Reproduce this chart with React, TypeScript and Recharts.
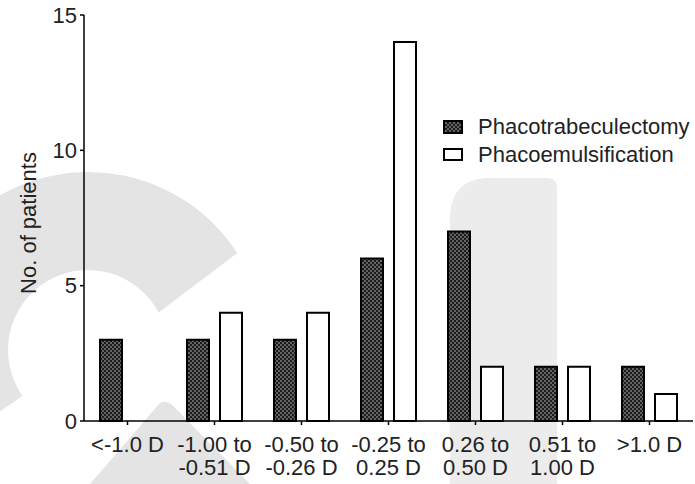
import React from 'react';
import { BarChart, Bar, XAxis, YAxis } from 'recharts';

// Refraction outcome bins (x axis)
const categories = [
  '<-1.0 D',
  '-1.00 to\n-0.51 D',
  '-0.50 to\n-0.26 D',
  '-0.25 to\n0.25 D',
  '0.26 to\n0.50 D',
  '0.51 to\n1.00 D',
  '>1.0 D',
];

// Number of patients per bin
const phacotrabeculectomy = [3, 3, 3, 6, 7, 2, 2];
const phacoemulsification = [0, 4, 4, 14, 2, 2, 1];

const yTicks = [0, 5, 10, 15];

const seriesNames = ['Phacotrabeculectomy', 'Phacoemulsification'];

const data = categories.map((category, i) => ({
  category,
  trab: phacotrabeculectomy[i],
  emul: phacoemulsification[i],
}));

const FONT = '"Liberation Sans", Arial, sans-serif';
const TEXT = '#222';

const XTick = (props: any) => {
  const { x, y, payload } = props;
  const lines = String(payload.value).split('\n');
  return (
    <text x={x} y={y} textAnchor="middle" fill={TEXT} fontSize={22} fontFamily={FONT}>
      {lines.map((line, i) => (
        <tspan key={i} x={x} dy={i === 0 ? 24.5 : 23.5}>
          {line}
        </tspan>
      ))}
    </text>
  );
};

// Series key, placed at the right of the plot
const SeriesKey = () => (
  <div
    style={{
      position: 'absolute',
      left: 443,
      top: 113,
      fontFamily: FONT,
      fontSize: 22,
      color: TEXT,
      lineHeight: '28px',
    }}
  >
    {seriesNames.map((name, i) => (
      <div key={name} style={{ display: 'flex', alignItems: 'center', whiteSpace: 'nowrap' }}>
        <svg width={21} height={14} style={{ marginRight: 14 }}>
          <rect
            x={1}
            y={1}
            width={18}
            height={i === 0 ? 12 : 11}
            fill={i === 0 ? 'url(#dotHatch)' : '#fff'}
            stroke="#000"
            strokeWidth={2}
          />
        </svg>
        <span>{name}</span>
      </div>
    ))}
  </div>
);

// Faint background emblem drawn behind the plot
const Backdrop = () => {
  const cx = 88;
  const cy = 350;
  const R = 178;
  const r = 80;
  const pt = (rad: number, deg: number) => {
    const a = (deg * Math.PI) / 180;
    return `${cx + rad * Math.cos(a)},${cy + rad * Math.sin(a)}`;
  };
  const ring = `M${pt(R, -33)} A${R},${R} 0 1,0 ${pt(R, 145)} L${pt(r, 145)} A${r},${r} 0 1,1 ${pt(r, -28)} Z`;
  return (
    <svg width={695} height={484} style={{ position: 'absolute', left: 0, top: 0 }}>
      <defs>
        <pattern id="dotHatch" width="4" height="4" patternUnits="userSpaceOnUse">
          <rect width="4" height="4" fill="#1c1c1c" />
          <rect x="0.2" y="0.2" width="1.6" height="1.6" fill="#8a8a8a" />
          <rect x="2.2" y="2.2" width="1.6" height="1.6" fill="#8a8a8a" />
        </pattern>
      </defs>
      <path d={ring} fill="#e4e4e4" />
      <path d="M160,403 Q168,399 176,409 L250,484 L90,484 Z" fill="#e4e4e4" />
      <path d="M450,484 L450,215 Q452,180 486,178 L547,178 Q557,178 557,189 L557,484 Z" fill="#ececec" />
    </svg>
  );
};

export default function App() {
  return (
    <div style={{ position: 'absolute', left: 0, top: 0, width: 695, height: 484, background: '#fff' }}>
      <Backdrop />
      <div style={{ position: 'absolute', left: 0, top: 0 }}>
        <BarChart
          width={695}
          height={484}
          data={data}
          margin={{ top: 15, right: 2, left: 0, bottom: 0 }}
          barSize={22}
          barGap={11}
        >
          <XAxis
            dataKey="category"
            height={63}
            interval={0}
            tickSize={4}
            tickMargin={2}
            axisLine={{ stroke: '#000', strokeWidth: 1.5 }}
            tickLine={{ stroke: '#000', strokeWidth: 1.5 }}
            tick={<XTick />}
          />
          <YAxis
            width={84}
            domain={[0, 15]}
            ticks={yTicks}
            interval={0}
            tickSize={4}
            tickMargin={3}
            axisLine={{ stroke: '#000', strokeWidth: 1.5 }}
            tickLine={{ stroke: '#000', strokeWidth: 1.5 }}
            tick={{ fill: TEXT, fontSize: 22, fontFamily: FONT }}
            label={{
              content: () => (
                <text
                  x={28}
                  y={223}
                  transform="rotate(-90 28 223)"
                  textAnchor="middle"
                  dominantBaseline="central"
                  fill={TEXT}
                  fontSize={22}
                  fontFamily={FONT}
                >
                  No. of patients
                </text>
              ),
            }}
          />
          <Bar
            dataKey="trab"
            name={seriesNames[0]}
            fill="url(#dotHatch)"
            stroke="#000"
            strokeWidth={2}
            isAnimationActive={false}
          />
          <Bar
            dataKey="emul"
            name={seriesNames[1]}
            fill="#fff"
            stroke="#000"
            strokeWidth={2}
            isAnimationActive={false}
          />
        </BarChart>
      </div>
      <SeriesKey />
    </div>
  );
}
